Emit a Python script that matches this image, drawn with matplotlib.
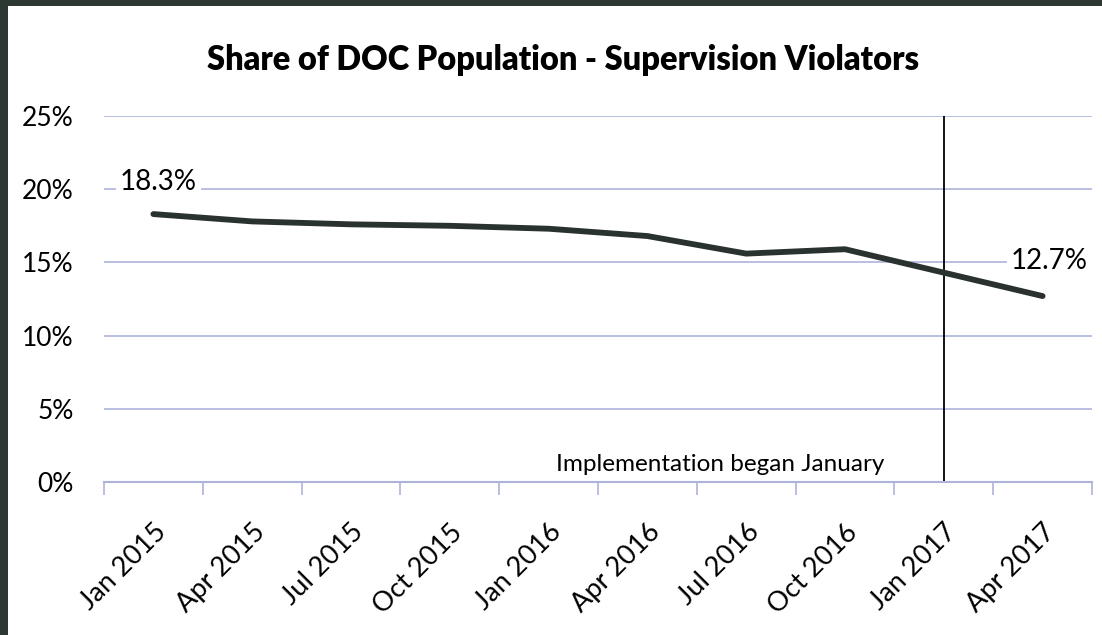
import matplotlib
matplotlib.use("Agg")
import matplotlib.pyplot as plt
from matplotlib.patches import Rectangle

# data
quarters = ["Jan 2015", "Apr 2015", "Jul 2015", "Oct 2015", "Jan 2016",
            "Apr 2016", "Jul 2016", "Oct 2016", "Jan 2017", "Apr 2017"]
share = [18.3, 17.8, 17.6, 17.5, 17.3, 16.8, 15.6, 15.9, 14.3, 12.7]
yticks = [0, 5, 10, 15, 20, 25]
start_label = "18.3%"
end_label = "12.7%"
impl_index = 8

plt.rcParams["font.family"] = ["Lato", "DejaVu Sans"]

fig = plt.figure(figsize=(11.02, 6.35), dpi=100, facecolor="white")
# dark scan border on left and top
fig.patches.append(Rectangle((0, 0), 8 / 1102, 1, transform=fig.transFigure,
                             facecolor="#2e3833", edgecolor="none", zorder=-1))
fig.patches.append(Rectangle((0, 1 - 6 / 635), 1, 6 / 635, transform=fig.transFigure,
                             facecolor="#2e3833", edgecolor="none", zorder=-1))

ax = fig.add_axes([104 / 1102, 1 - 482 / 635, (1092 - 104) / 1102, (482 - 116) / 635])
ax.set_facecolor("none")

grid_c = "#aeb3da"
x = list(range(len(quarters)))
ax.plot(x, share, color="#2a3230", lw=4.2, solid_capstyle="round", zorder=3)

ax.set_xlim(-0.5, len(quarters) - 0.5)
ax.set_ylim(0, 25)
ax.set_yticks(yticks)
ax.set_yticklabels([f"{v}%" for v in yticks], fontsize=19)
ax.tick_params(axis="y", length=0, pad=22)
for v in yticks[1:]:
    ax.axhline(v, color=grid_c, lw=1.2, zorder=1)

ax.set_xticks(x)
ax.set_xticklabels(quarters, rotation=45, ha="right", rotation_mode="anchor", fontsize=19.5)
ax.tick_params(axis="x", length=0, pad=27)
ax.set_xticks([i - 0.5 for i in range(len(quarters) + 1)], minor=True)
ax.tick_params(axis="x", which="minor", length=9, width=1.2, color=grid_c, direction="out")

for s in ["top", "right", "left"]:
    ax.spines[s].set_visible(False)
ax.spines["bottom"].set_color(grid_c)
ax.spines["bottom"].set_linewidth(1.5)

# implementation marker
ax.plot([impl_index, impl_index], [0, 25], color="black", lw=1.3, zorder=2)
ax.text(impl_index - 0.6, 0.45, "Implementation began January", ha="right", va="bottom",
        fontsize=17.5)

# end labels
ax.text(0.05, 20.5, start_label, ha="center", va="center", fontsize=20,
        bbox=dict(facecolor="white", edgecolor="none", pad=3), zorder=4)
ax.text(len(quarters) - 1 + 0.07, 15.1, end_label, ha="center", va="center", fontsize=20,
        bbox=dict(facecolor="white", edgecolor="none", pad=3), zorder=4)

fig.text(0.511, 0.905, "Share of DOC Population - Supervision Violators", ha="center",
         va="center", fontsize=23.5, fontweight="heavy")

fig.savefig("out.png", dpi=100, facecolor=fig.get_facecolor())
